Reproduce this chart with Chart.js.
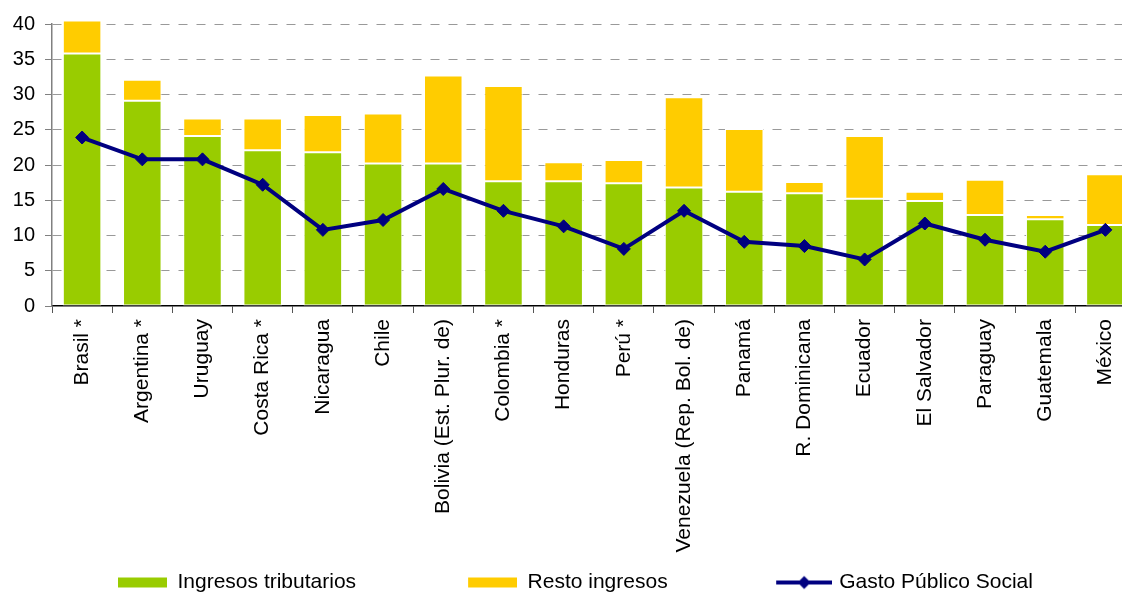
<!DOCTYPE html>
<html>
<head>
<meta charset="utf-8">
<script src="https://cdn.jsdelivr.net/npm/chart.js@4/dist/chart.umd.min.js"></script>
<style>
html,body{margin:0;padding:0;background:#ffffff;overflow:hidden;}
#wrap{width:1143px;height:593px;}
</style>
</head>
<body>
<div id="wrap"><canvas id="c" width="1143" height="593"></canvas></div>
<script>
const categories = ['Brasil *','Argentina *','Uruguay','Costa Rica *','Nicaragua','Chile','Bolivia (Est. Plur. de)','Colombia *','Honduras','Perú *','Venezuela (Rep. Bol. de)','Panamá','R. Dominicana','Ecuador','El Salvador','Paraguay','Guatemala','México'];
const ingresosTributarios = [35.8, 29.1, 24.1, 22.1, 21.8, 20.2, 20.2, 17.7, 17.7, 17.4, 16.8, 16.2, 16.0, 15.2, 14.9, 12.9, 12.3, 11.5];
const restoIngresos = [4.7, 3.0, 2.5, 4.5, 5.3, 7.1, 12.5, 13.5, 2.7, 3.3, 12.8, 8.9, 1.6, 8.9, 1.3, 5.0, 0.6, 7.2];
const gastoPublicoSocial = [23.9, 20.8, 20.8, 17.2, 10.8, 12.2, 16.6, 13.5, 11.3, 8.1, 13.5, 9.1, 8.5, 6.6, 11.7, 9.4, 7.7, 10.8];
const yTicks = [0, 5, 10, 15, 20, 25, 30, 35, 40];
const seriesNames = ['Ingresos tributarios', 'Resto ingresos', 'Gasto Público Social'];

const GREEN = '#99CC00', YELLOW = '#FFCC00', NAVY = '#000080';
const FONT = "'Liberation Sans', Arial, sans-serif";

// legend swatches
const LEG_PAD = 2, LEG_MARGIN = 110, LEG_BOX = 49;
const LEG_W = LEG_MARGIN + LEG_BOX;
function boxSwatch(color) {
  const c = document.createElement('canvas');
  c.width = LEG_W; c.height = 12;
  const g = c.getContext('2d');
  g.fillStyle = color;
  g.fillRect(LEG_MARGIN, 1, LEG_BOX, 10);
  return c;
}
function lineSwatch(color) {
  const extra = 7;
  const c = document.createElement('canvas');
  c.width = LEG_W + extra; c.height = 16;
  const g = c.getContext('2d');
  const x0 = LEG_MARGIN, x1 = LEG_MARGIN + LEG_BOX + extra, cy = 8;
  g.strokeStyle = color; g.lineWidth = 4;
  g.beginPath(); g.moveTo(x0, cy); g.lineTo(x1, cy); g.stroke();
  const cx = (x0 + x1) / 2, r = 6.5;
  g.fillStyle = color;
  g.beginPath(); g.moveTo(cx, cy - r); g.lineTo(cx + r, cy); g.lineTo(cx, cy + r); g.lineTo(cx - r, cy); g.closePath(); g.fill();
  return c;
}
const swatches = [boxSwatch(GREEN), boxSwatch(YELLOW), lineSwatch(NAVY)];

new Chart(document.getElementById('c'), {
  data: {
    labels: categories,
    datasets: [
      { type: 'line', label: seriesNames[2], data: gastoPublicoSocial, borderColor: NAVY, backgroundColor: NAVY,
        borderWidth: 4, pointStyle: 'rectRot', pointRadius: 6.5, pointBackgroundColor: NAVY, pointBorderColor: NAVY,
        pointBorderWidth: 1, tension: 0, order: 0, stack: 'line', fill: false, clip: false },
      { type: 'bar', label: seriesNames[0], data: ingresosTributarios, backgroundColor: GREEN, borderColor: '#ffffff',
        borderWidth: 1, borderSkipped: false, barPercentage: 0.64, categoryPercentage: 1, order: 1, stack: 'bars', clip: false },
      { type: 'bar', label: seriesNames[1], data: restoIngresos, backgroundColor: YELLOW, borderColor: '#ffffff',
        borderWidth: 1, borderSkipped: false, barPercentage: 0.64, categoryPercentage: 1, order: 1, stack: 'bars', clip: false }
    ]
  },
  options: {
    responsive: false,
    animation: false,
    layout: { padding: { top: 24, left: 6, right: 0, bottom: 0 } },
    plugins: {
      tooltip: { enabled: false },
      legend: {
        position: 'bottom',
        align: 'start',
        maxHeight: 23,
        labels: {
          usePointStyle: true,
          pointStyleWidth: LEG_W,
          padding: LEG_PAD,
          color: '#000000',
          font: { family: FONT, size: 21 },
          generateLabels: () => [
            { text: seriesNames[0], pointStyle: swatches[0], fillStyle: GREEN, strokeStyle: GREEN, lineWidth: 0, hidden: false, datasetIndex: 1 },
            { text: seriesNames[1], pointStyle: swatches[1], fillStyle: YELLOW, strokeStyle: YELLOW, lineWidth: 0, hidden: false, datasetIndex: 2 },
            { text: seriesNames[2], pointStyle: swatches[2], fillStyle: NAVY, strokeStyle: NAVY, lineWidth: 0, hidden: false, datasetIndex: 0 }
          ]
        }
      }
    },
    scales: {
      x: {
        stacked: true,
        ticks: { font: { family: FONT, size: 21 }, color: '#000000', minRotation: 90, maxRotation: 90, autoSkip: false, padding: 6 },
        grid: { offset: true, drawOnChartArea: false, drawTicks: true, tickLength: 7, color: '#555555', tickColor: '#555555', lineWidth: 1 },
        border: { display: true, color: '#000000', width: 1.5 },
        afterFit: s => { s.height = 264; s.paddingRight = 0; s.paddingLeft = 0; }
      },
      y: {
        stacked: true,
        min: 0, max: 40,
        afterBuildTicks: axis => { axis.ticks = yTicks.map(v => ({ value: v })); },
        ticks: { font: { family: FONT, size: 20 }, color: '#000000', padding: 10 },
        grid: { color: c => (c.tick && c.tick.value === 0) ? 'rgba(0,0,0,0)' : '#999999', lineWidth: 1, drawTicks: true, tickLength: 7, tickColor: '#808080', tickBorderDash: [] },
        border: { display: true, color: '#808080', width: 1.5, dash: [9, 9] },
        afterFit: s => { s.width = 46; }
      }
    }
  }
});
</script>
</body>
</html>
